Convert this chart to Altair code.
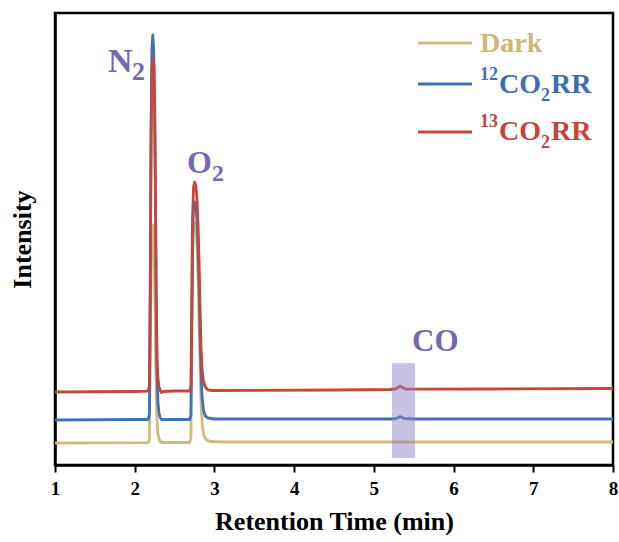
import altair as alt
import pandas as pd

# ---------------- data (retention time in min, intensity in a.u.) ----------------
dark_t = [1.0, 2.17, 2.185, 2.195, 2.21, 2.225, 2.24, 2.252, 2.264, 2.276, 2.29, 2.305, 2.325, 2.36,
          2.69, 2.705, 2.716, 2.728, 2.742, 2.756, 2.77, 2.784, 2.797, 2.81, 2.823, 2.836, 2.85, 2.87,
          2.9, 2.95, 3.1, 8.0]
dark_i = [22, 22.3, 26, 120, 220, 240, 225, 170, 100, 50, 32, 26, 23, 22.5,
          22.5, 27, 120, 215, 240, 242, 235, 215, 180, 130, 85, 55, 38, 29,
          25, 23.5, 23, 23]

co12_t = [1.0, 2.0, 2.17, 2.185, 2.195, 2.205, 2.215, 2.226, 2.238, 2.25, 2.26, 2.27, 2.28, 2.292,
          2.305, 2.32, 2.34, 2.5, 2.69, 2.705, 2.715, 2.725, 2.738, 2.752, 2.768, 2.782, 2.795,
          2.807, 2.819, 2.832, 2.845, 2.862, 2.885, 2.92, 3.0, 5.2, 5.28, 5.33, 5.38, 5.5, 8.0]
co12_i = [45, 45.5, 45.5, 52, 170, 330, 415, 430, 415, 360, 270, 160, 90, 62,
          52, 47, 45.5, 45.5, 45.5, 50, 130, 225, 258, 263, 258, 243, 215,
          180, 135, 95, 68, 55, 49, 47, 46, 46, 46.5, 48.5, 46.5, 46, 46]

co13_t = [1.0, 2.0, 2.17, 2.185, 2.195, 2.205, 2.215, 2.228, 2.24, 2.25, 2.26, 2.27, 2.28, 2.292,
          2.305, 2.32, 2.335, 2.36, 2.5, 2.69, 2.705, 2.715, 2.725, 2.738, 2.752, 2.768, 2.782,
          2.795, 2.807, 2.819, 2.832, 2.845, 2.862, 2.885, 2.92, 2.98, 4.5, 5.2, 5.27, 5.3, 5.33,
          5.36, 5.4, 5.5, 6.5, 8.0]
co13_i = [73, 73.5, 73.8, 80, 180, 330, 395, 407, 400, 360, 270, 170, 105, 86,
          78, 74.5, 72.5, 73.5, 74, 74, 78, 150, 245, 278, 283, 279, 265,
          240, 205, 160, 118, 95, 84, 78, 75, 74.5, 75, 75.5, 76, 77.5, 79,
          77.5, 76, 75.8, 76, 76.5]

series = ["Dark", "12CO2RR", "13CO2RR"]
colors = ["#cfbc78", "#4170b6", "#c7463b"]
text_colors = ["#cdb877", "#3f6db4", "#c54438"]

# CO highlight band
band_t = [5.228]
band_t2 = [5.517]
band_i = [7]
band_i2 = [102]

# peak annotations
ann_text = ["N", "2", "O", "2", "CO"]
ann_t = [1.665, 1.966, 2.656, 2.970, 5.479]
ann_i = [393, 385, 292, 284, 114]
ann_size = [34, 26, 32, 24, 31]
ann_color = "#7767b3"

# legend (drawn in data units)
leg_line_t = [5.554, 5.554, 5.554]
leg_line_t2 = [6.231, 6.231, 6.231]
leg_line_i = [422, 381, 333]
leg_text = ["Dark", "12", "CO", "2", "RR", "13", "CO", "2", "RR"]
leg_text_t = [6.332, 6.332, 6.570, 7.097, 7.222, 6.332, 6.570, 7.097, 7.222]
leg_text_i = [413, 385, 372, 364, 372, 338, 325, 317, 325]
leg_text_size = [28, 18, 28, 18, 28, 18, 28, 18, 28]
leg_text_color = [text_colors[0]] + [text_colors[1]] * 4 + [text_colors[2]] * 4

FONT = "Liberation Serif"

# ---------------- chart ----------------
x_scale = alt.Scale(domain=[1, 8], nice=False, zero=False)
y_scale = alt.Scale(domain=[0, 452], nice=False, zero=False)

x_axis = alt.Axis(values=[1, 2, 3, 4, 5, 6, 7, 8], format="d", grid=False,
                  title="Retention Time (min)")
y_axis = alt.Axis(ticks=False, labels=False, grid=False, title="Intensity")


def line_layer(t, i, color):
    df = pd.DataFrame({"t": t, "i": i})
    return alt.Chart(df).mark_line(color=color, strokeWidth=2.8, strokeJoin="round").encode(
        x=alt.X("t:Q", scale=x_scale, axis=x_axis),
        y=alt.Y("i:Q", scale=y_scale, axis=y_axis),
    )


dark = line_layer(dark_t, dark_i, colors[0])
blue = line_layer(co12_t, co12_i, colors[1])
red = line_layer(co13_t, co13_i, colors[2])

band = alt.Chart(pd.DataFrame({"t": band_t, "t2": band_t2, "i": band_i, "i2": band_i2})).mark_rect(
    color="#8f86c6", opacity=0.5
).encode(x=alt.X("t:Q", scale=x_scale), x2="t2:Q", y=alt.Y("i:Q", scale=y_scale), y2="i2:Q")

ann = alt.Chart(pd.DataFrame({"txt": ann_text, "t": ann_t, "i": ann_i, "s": ann_size})).mark_text(
    font=FONT, fontWeight="bold", align="left", baseline="alphabetic", color=ann_color
).encode(
    x=alt.X("t:Q", scale=x_scale), y=alt.Y("i:Q", scale=y_scale),
    text="txt:N", size=alt.Size("s:Q", scale=None),
)

leg_lines = alt.Chart(pd.DataFrame({"t": leg_line_t, "t2": leg_line_t2, "i": leg_line_i,
                                    "c": colors})).mark_rule(strokeWidth=3).encode(
    x=alt.X("t:Q", scale=x_scale), x2="t2:Q", y=alt.Y("i:Q", scale=y_scale),
    color=alt.Color("c:N", scale=None),
)

leg_txt = alt.Chart(pd.DataFrame({"txt": leg_text, "t": leg_text_t, "i": leg_text_i,
                                  "s": leg_text_size, "c": leg_text_color})).mark_text(
    font=FONT, fontWeight="bold", align="left", baseline="alphabetic"
).encode(
    x=alt.X("t:Q", scale=x_scale), y=alt.Y("i:Q", scale=y_scale),
    text="txt:N", size=alt.Size("s:Q", scale=None), color=alt.Color("c:N", scale=None),
)

chart = alt.layer(dark, blue, red, band, ann, leg_lines, leg_txt).properties(
    width=558, height=452,
    autosize=alt.AutoSizeParams(type="none"),
    padding={"left": 55, "top": 13, "right": 6, "bottom": 77},
).configure_view(
    stroke="black", strokeWidth=2.5
).configure_axis(
    domainColor="black", domainWidth=2.5, tickColor="black", tickWidth=2, tickSize=7,
    labelFont=FONT, labelFontSize=19, labelFontWeight="bold", labelColor="black", labelPadding=7,
    titleFont=FONT, titleFontSize=26, titleFontWeight="bold", titleColor="black",
).configure_axisX(
    titlePadding=10, labelFlush=False,
).configure_axisY(
    titlePadding=20,
)

chart.save("out.html", embed_options={"renderer": "svg", "actions": False})
